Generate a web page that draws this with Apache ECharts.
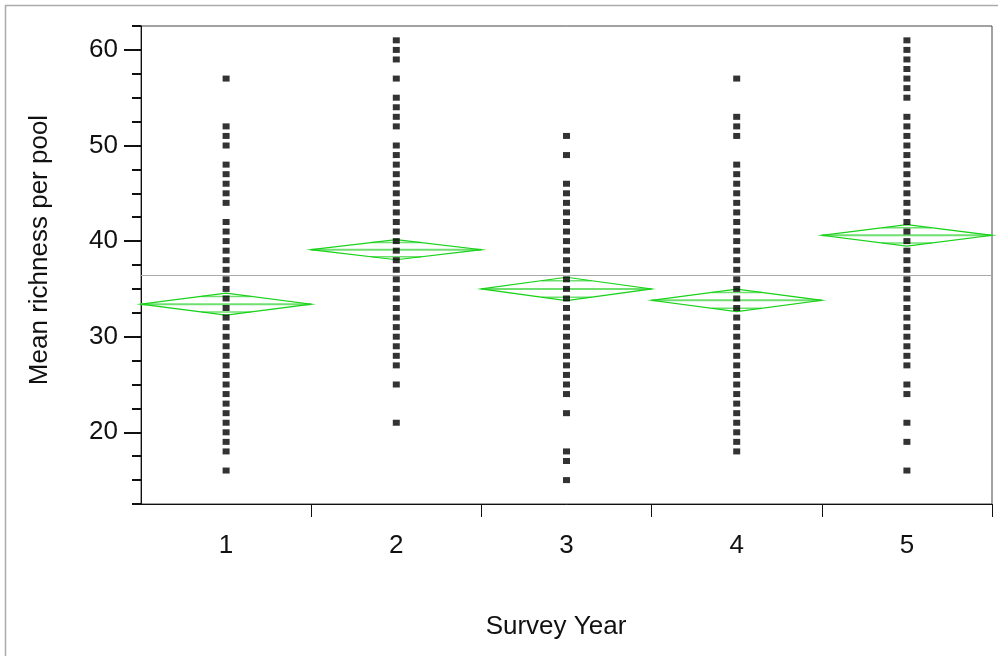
<!DOCTYPE html>
<html>
<head>
<meta charset="utf-8">
<script src="https://cdn.jsdelivr.net/npm/echarts@6/dist/echarts.min.js"></script>
<style>
html,body{margin:0;padding:0;background:#fff;}
#main{width:998px;height:656px;}
</style>
</head>
<body>
<div id="main"></div>
<script>
const categories = ['1', '2', '3', '4', '5'];
const year1 = [57,52,51,50,48,47,46,45,44,42,41,40,39,38,37,36,35,34,33,32,31,30,29,28,27,26,25,24,23,22,21,20,19,18,16];
const year2 = [61,60,59,57,55,54,53,52,50,49,48,47,46,45,44,43,42,41,40,39,38,37,36,35,34,33,32,31,30,29,28,27,25,21];
const year3 = [51,49,46,45,44,43,42,41,40,39,38,37,36,35,34,33,32,31,30,29,28,27,26,25,24,22,18,17,15];
const year4 = [57,53,52,51,48,47,46,45,44,43,42,41,40,39,38,37,36,35,34,33,32,31,30,29,28,27,26,25,24,23,22,21,20,19,18];
const year5 = [61,60,59,58,57,56,55,53,52,51,50,49,48,47,46,45,44,43,42,41,40,39,38,37,36,35,34,33,32,31,30,29,28,27,25,24,21,19,16];
const groupMeans = [33.4, 39.1, 35.0, 33.8, 40.6];
const ciHalfWidths = [1.15, 1.05, 1.22, 1.18, 1.13];
const grandMean = 36.4;
const majorTicks = [20, 30, 40, 50, 60];
const minorTicks = [12.5, 15, 17.5, 22.5, 25, 27.5, 32.5, 35, 37.5, 42.5, 45, 47.5, 52.5, 55, 57.5, 62.5];

const groups = [year1, year2, year3, year4, year5];
const points = [];
groups.forEach((arr, i) => arr.forEach(v => points.push([i, v])));
const diamonds = groupMeans.map((m, i) => [i, m, ciHalfWidths[i]]);

const chart = echarts.init(document.getElementById('main'));
const FONT = 'Liberation Sans, Arial, sans-serif';
const GREEN = '#19d219';
const LIGHT_GREEN = '#6fe06f';

chart.setOption({
  animation: false,
  backgroundColor: '#fff',
  grid: { left: 141, top: 26, right: 6, bottom: 152, show: true, borderColor: '#444', borderWidth: 1, backgroundColor: 'transparent' },
  xAxis: {
    type: 'category',
    data: categories,
    boundaryGap: true,
    axisLine: { lineStyle: { color: '#111', width: 1 } },
    axisTick: { show: true, interval: function (index) { return index !== 0; }, length: 13, lineStyle: { color: '#111' } },
    axisLabel: { margin: 29, fontFamily: FONT, fontSize: 26, color: '#111' },
    splitLine: { show: false }
  },
  yAxis: [{
    type: 'value',
    min: 12.5,
    max: 62.5,
    axisLine: { show: true, lineStyle: { color: '#111', width: 1 } },
    axisTick: { show: true, length: 17, customValues: majorTicks, lineStyle: { color: '#111', width: 2 } },
    axisLabel: { margin: 23, customValues: majorTicks, fontFamily: FONT, fontSize: 26, color: '#111' },
    splitLine: { show: false }
  }, {
    type: 'value',
    min: 12.5,
    max: 62.5,
    position: 'left',
    axisLine: { show: false },
    axisTick: { show: true, length: 9, customValues: minorTicks, lineStyle: { color: '#111', width: 2 } },
    axisLabel: { show: false },
    splitLine: { show: false }
  }],
  graphic: [
    { type: 'line', shape: { x1: 5, y1: 5.5, x2: 998, y2: 5.5 }, style: { stroke: '#aaa', lineWidth: 1.5 }, silent: true },
    { type: 'line', shape: { x1: 5.5, y1: 5, x2: 5.5, y2: 656 }, style: { stroke: '#aaa', lineWidth: 1.5 }, silent: true },
    { type: 'text', x: 40, y: 250, rotation: Math.PI / 2,
      style: { text: 'Mean richness per pool', font: '26px ' + FONT, fill: '#111', align: 'center', verticalAlign: 'middle' } },
    { type: 'text', x: 556, y: 627,
      style: { text: 'Survey Year', font: '26px ' + FONT, fill: '#111', align: 'center', verticalAlign: 'middle' } }
  ],
  series: [{
    type: 'custom',
    coordinateSystem: 'cartesian2d',
    data: diamonds,
    encode: { x: 0, y: 1 },
    z: 2,
    markLine: {
      silent: true,
      symbol: 'none',
      label: { show: false },
      lineStyle: { color: '#aaa', width: 1, type: 'solid' },
      data: [{ yAxis: grandMean }]
    },
    renderItem: function (params, api) {
      const idx = api.value(0), m = api.value(1), h = api.value(2);
      const c = api.coord([idx, m]);
      const top = api.coord([idx, m + h]);
      const bot = api.coord([idx, m - h]);
      const w = api.size([1, 0])[0];
      const half = w / 2;
      const f = 1 / Math.SQRT2;
      const ov = half * (1 - f);
      const oTop = api.coord([idx, m + h * f])[1];
      const oBot = api.coord([idx, m - h * f])[1];
      return {
        type: 'group',
        children: [
          { type: 'line', shape: { x1: c[0] - half, y1: c[1], x2: c[0] + half, y2: c[1] }, style: { stroke: LIGHT_GREEN, lineWidth: 2 } },
          { type: 'line', shape: { x1: c[0] - ov, y1: oTop, x2: c[0] + ov, y2: oTop }, style: { stroke: LIGHT_GREEN, lineWidth: 1.5 } },
          { type: 'line', shape: { x1: c[0] - ov, y1: oBot, x2: c[0] + ov, y2: oBot }, style: { stroke: LIGHT_GREEN, lineWidth: 1.5 } },
          { type: 'polygon', shape: { points: [[c[0] - half, c[1]], [c[0], top[1]], [c[0] + half, c[1]], [c[0], bot[1]]] },
            style: { fill: 'none', stroke: GREEN, lineWidth: 1.2 } }
        ]
      };
    }
  }, {
    type: 'scatter',
    data: points,
    symbol: 'rect',
    symbolSize: [7, 6],
    itemStyle: { color: '#000' },
    z: 3
  }]
});
</script>
</body>
</html>
